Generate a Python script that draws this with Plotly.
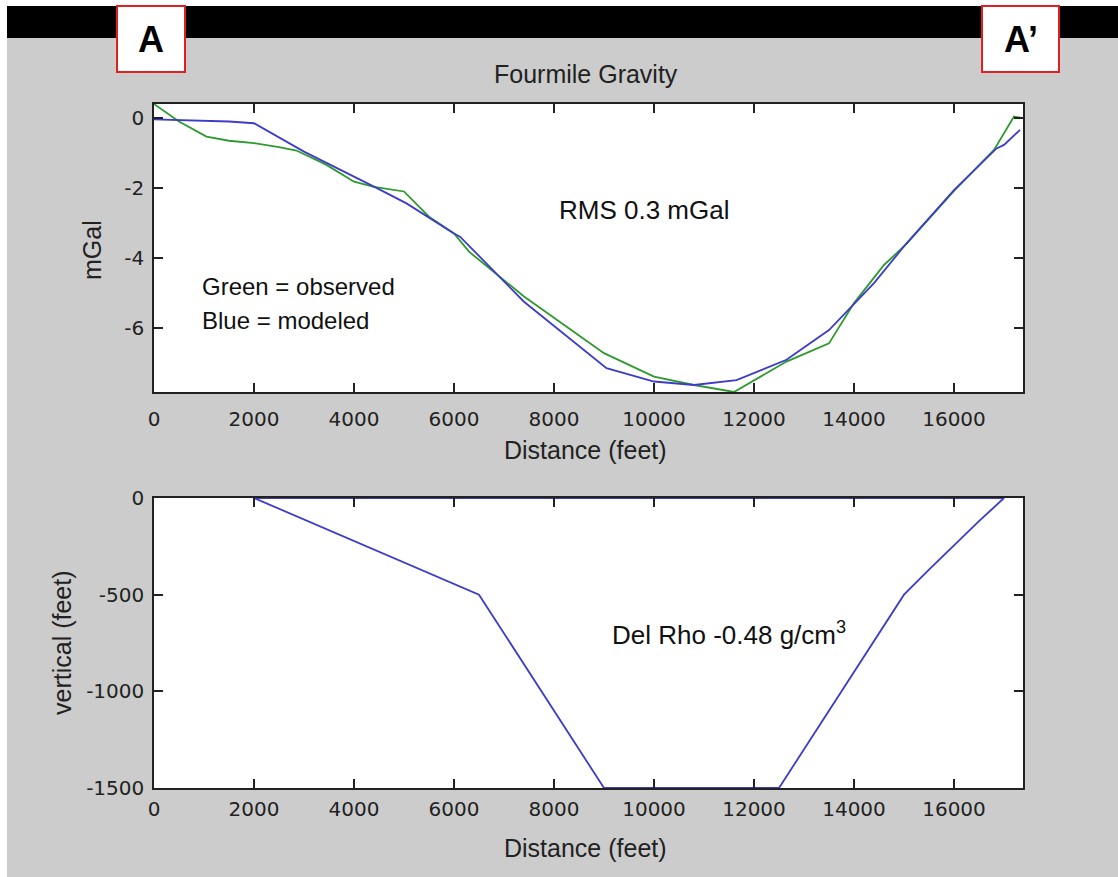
import plotly.graph_objects as go

W, H = 1118, 877

# ---- data ----
obs_x = [0, 500, 1050, 1500, 2000, 2500, 2850, 3450, 4000, 4400, 5000, 5500, 6000, 6300,
         7400, 9000, 10000, 10800, 11600, 12000, 12650, 13500, 14000, 14600, 15050,
         16000, 16800, 17200, 17350]
obs_y = [0.40, -0.10, -0.53, -0.65, -0.72, -0.83, -0.93, -1.34, -1.82, -1.97, -2.10, -2.82,
         -3.30, -3.82, -5.10, -6.72, -7.39, -7.63, -7.83, -7.49, -6.96, -6.44, -5.29,
         -4.20, -3.60, -2.08, -0.91, 0.04, 0.00]

mod_x = [0, 1500, 2000, 3000, 4400, 5050, 6000, 6120, 7400, 9050, 10000, 10800, 11650,
         12650, 13500, 14400, 15050, 16000, 16850, 17000, 17320]
mod_y = [-0.04, -0.10, -0.15, -0.96, -1.96, -2.44, -3.30, -3.39, -5.25, -7.15, -7.53,
         -7.63, -7.49, -6.91, -6.06, -4.72, -3.58, -2.06, -0.87, -0.77, -0.34]

body_x = [2000, 6500, 9000, 12500, 15000, 15500, 16500, 17000, 2000]
body_y = [0, -500, -1500, -1500, -500, -370, -120, 0, 0]

x_ticks = [0, 2000, 4000, 6000, 8000, 10000, 12000, 14000, 16000]
grav_ticks = [0, -2, -4, -6]
depth_ticks = [0, -500, -1000, -1500]

X_RANGE = [0, 17380]
GRAV_RANGE = [-7.83, 0.40]
DEPTH_RANGE = [-1500, 0]

GREEN = "#2e9a2e"
BLUE = "#3c3cc8"
GREY = "#cccccc"


def px(x):
    return x / W


def py(y):
    return 1 - y / H


fig = go.Figure()
fig.add_trace(go.Scatter(x=obs_x, y=obs_y, mode="lines", line=dict(color=GREEN, width=1.8),
                         xaxis="x", yaxis="y", showlegend=False, cliponaxis=False))
fig.add_trace(go.Scatter(x=mod_x, y=mod_y, mode="lines", line=dict(color=BLUE, width=1.8),
                         xaxis="x", yaxis="y", showlegend=False, cliponaxis=False))
fig.add_trace(go.Scatter(x=body_x, y=body_y, mode="lines", line=dict(color=BLUE, width=1.8),
                         xaxis="x2", yaxis="y2", showlegend=False, cliponaxis=False))

tickfont = dict(family="DejaVu Sans", size=20, color="#222222")
axis_common = dict(showline=True, linecolor="#222222", linewidth=1.5, mirror="ticks",
                   ticks="inside", ticklen=9, tickwidth=1.5, tickcolor="#222222",
                   showgrid=False, zeroline=False, tickfont=tickfont, fixedrange=True,
                   automargin=False)

xdom = [px(154), px(1023)]
fig.update_layout(
    width=W, height=H, margin=dict(l=0, r=0, t=0, b=0, pad=0), autosize=False,
    paper_bgcolor="white", plot_bgcolor="white", showlegend=False,
    xaxis=dict(domain=xdom, range=X_RANGE, tickvals=x_ticks,
               ticktext=[str(v) for v in x_ticks], anchor="y",
               ticklabelstandoff=8, **axis_common),
    yaxis=dict(domain=[py(392), py(104)], range=GRAV_RANGE, tickvals=grav_ticks,
               ticktext=[str(v) for v in grav_ticks], anchor="x",
               ticklabelstandoff=4, **axis_common),
    xaxis2=dict(domain=xdom, range=X_RANGE, tickvals=x_ticks,
                ticktext=[str(v) for v in x_ticks], anchor="y2",
                ticklabelstandoff=2, **axis_common),
    yaxis2=dict(domain=[py(788), py(498)], range=DEPTH_RANGE, tickvals=depth_ticks,
                ticktext=[str(v) for v in depth_ticks], anchor="x2",
                ticklabelstandoff=4, **axis_common),
)


def grey_rect(x0, x1, y0, y1):
    return dict(type="rect", xref="paper", yref="paper", x0=px(x0), x1=px(x1),
                y0=py(y1), y1=py(y0), fillcolor=GREY, line=dict(width=0), layer="below")


shapes = [
    # grey figure panel around the two axes boxes
    grey_rect(7, 1118, 6, 104),
    grey_rect(7, 154, 104, 877),
    grey_rect(1023, 1118, 104, 877),
    grey_rect(154, 1023, 392, 498),
    grey_rect(154, 1023, 788, 877),
    dict(type="rect", xref="paper", yref="paper", x0=px(7), x1=1, y0=py(38), y1=py(6),
         fillcolor="black", line=dict(width=0), layer="below"),
    dict(type="rect", xref="paper", yref="paper", x0=px(117), x1=px(185), y0=py(72), y1=py(6),
         fillcolor="white", line=dict(color="#e02020", width=2), layer="above"),
    dict(type="rect", xref="paper", yref="paper", x0=px(982), x1=px(1059), y0=py(72), y1=py(6),
         fillcolor="white", line=dict(color="#e02020", width=2), layer="above"),
]
fig.update_layout(shapes=shapes)

lab = dict(family="Liberation Sans, Arial, sans-serif", size=25, color="#222222")
annots = [
    dict(text="<b>A</b>", x=px(151), y=py(40), font=dict(family="Liberation Sans, Arial", size=36, color="black")),
    dict(text="<b>A\u2019</b>", x=px(1021), y=py(40), font=dict(family="Liberation Sans, Arial", size=36, color="black")),
    dict(text="Fourmile Gravity", x=px(586), y=py(74), font=lab),
    dict(text="Distance (feet)", x=px(585), y=py(450), font=lab),
    dict(text="Distance (feet)", x=px(585), y=py(848), font=lab),
    dict(text="mGal", x=px(92), y=py(250), font=lab, textangle=-90),
    dict(text="vertical (feet)", x=px(62), y=py(643), font=lab, textangle=-90),
    dict(text="RMS 0.3 mGal", x=px(644), y=py(210), font=dict(family="Liberation Sans, Arial", size=26, color="#111111")),
    dict(text="Green = observed", x=px(200), y=py(287), xanchor="left", font=dict(family="Liberation Sans, Arial", size=24, color="#111111")),
    dict(text="Blue = modeled", x=px(200), y=py(320), xanchor="left", font=dict(family="Liberation Sans, Arial", size=24, color="#111111")),
    dict(text="Del Rho -0.48 g/cm<sup>3</sup>", x=px(610), y=py(633), xanchor="left", font=dict(family="Liberation Sans, Arial", size=26, color="#111111")),
]
for a in annots:
    a.setdefault("xref", "paper")
    a.setdefault("yref", "paper")
    a.setdefault("showarrow", False)
    a.setdefault("xanchor", "center")
    a.setdefault("yanchor", "middle")
fig.update_layout(annotations=annots)

fig.write_html("out.html",
               post_script="document.body.style.margin='0';document.body.style.padding='0';"
                           "document.body.style.overflow='hidden';"
                           "document.documentElement.style.overflow='hidden';")
